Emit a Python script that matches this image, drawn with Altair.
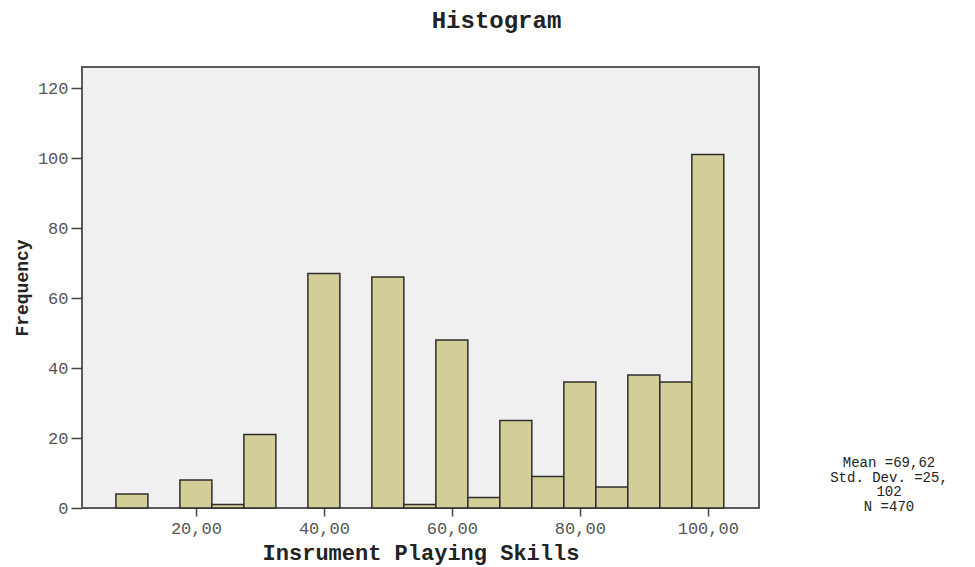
import altair as alt
import pandas as pd

# bin centres (width 5) and frequencies
bin_centers = [10, 15, 20, 25, 30, 35, 40, 45, 50, 55, 60, 65, 70, 75, 80, 85, 90, 95, 100]
counts      = [4,  0,  8,  1,  21, 0,  67, 0,  66, 1,  48, 3,  25, 9,  36, 6,  38, 36, 101]
bin_width = 5
x_ticks = [20, 40, 60, 80, 100]
y_ticks = [0, 20, 40, 60, 80, 100, 120]
stats_lines = ["Mean =69,62", "Std. Dev. =25,", "102", "N =470"]

df = pd.DataFrame({"center": bin_centers, "count": counts})
df["start"] = df["center"] - bin_width / 2
df["end"] = df["center"] + bin_width / 2
df = df[df["count"] > 0]

FONT = "Liberation Mono"

bars = alt.Chart(df).mark_bar(
    fill="#d3ce97", stroke="#2e2e2e", strokeWidth=1.5, opacity=1
).encode(
    x=alt.X("start:Q",
            scale=alt.Scale(domain=[2.2, 108], nice=False, zero=False),
            axis=alt.Axis(values=x_ticks, title="Insrument Playing Skills",
                          labelExpr="replace(format(datum.value, '.2f'), '.', ',')",
                          grid=False, domain=False, tickSize=8, tickColor="#444",
                          tickWidth=1.5, labelPadding=4, labelFont=FONT,
                          labelFontSize=17, labelColor="#555",
                          titleFont=FONT, titleFontSize=22, titleFontWeight="bold",
                          titleColor="#222", titlePadding=6)),
    x2="end:Q",
    y=alt.Y("count:Q",
            scale=alt.Scale(domain=[0, 126], nice=False),
            axis=alt.Axis(values=y_ticks, title="Frequency", grid=False,
                          domain=False, tickSize=11, tickColor="#444",
                          tickWidth=1.5, labelPadding=3, labelFont=FONT,
                          labelFontSize=17, labelColor="#555",
                          titleFont=FONT, titleFontSize=18, titleFontWeight="bold",
                          titleColor="#222", titlePadding=6)),
    y2=alt.datum(0),
)

stats = alt.Chart(pd.DataFrame({"t": ["\n".join(stats_lines)]})).mark_text(
    font=FONT, fontSize=14, lineBreak="\n", lineHeight=14.5, align="center",
    baseline="top", color="#222"
).encode(
    text="t:N",
    x=alt.value(807),
    y=alt.value(389),
)

chart = alt.layer(bars, stats).properties(
    width=677,
    height=441,
    title=alt.TitleParams("Histogram", font=FONT, fontSize=24, fontWeight="bold",
                          color="#222", anchor="middle", dx=76, offset=34),
    autosize=alt.AutoSizeParams(type="none"),
    padding={"left": 74, "top": 59, "right": 205, "bottom": 59},
).configure(
    background="white",
    view=alt.ViewConfig(fill="#f0f0f0", stroke="#5a5a5a", strokeWidth=2),
)

chart.save("out.html", embed_options={"renderer": "svg", "actions": False})
